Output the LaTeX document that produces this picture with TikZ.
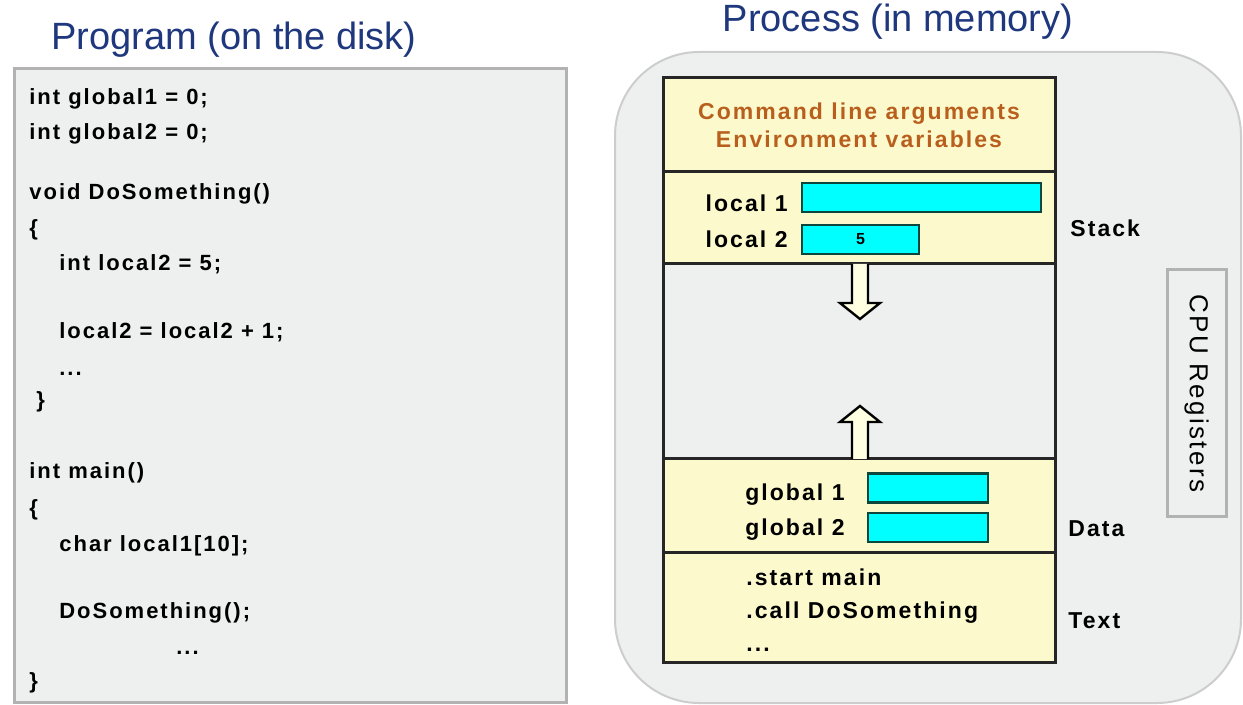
\documentclass[tikz,border=0pt]{standalone}
\usepackage{fontspec}
\setmainfont{Liberation Sans}
\newfontfamily\spacedfont[LetterSpace=9]{Liberation Sans}
\usetikzlibrary{positioning}
\definecolor{titleblue}{RGB}{30,55,125}
\definecolor{panelgrey}{RGB}{238,240,240}
\definecolor{diskedge}{RGB}{178,178,178}
\definecolor{procedge}{RGB}{205,205,205}
\definecolor{segyellow}{RGB}{252,250,205}
\definecolor{argorange}{RGB}{185,95,30}
\definecolor{barcyan}{RGB}{0,255,255}
\definecolor{bardark}{RGB}{12,70,60}
\definecolor{arrowfill}{RGB}{255,255,225}

\begin{document}
\begin{tikzpicture}[x=0.5pt,y=-0.5pt,node distance=0pt,
        title/.style={font=\fontsize{19}{22}\selectfont,text=titleblue,anchor=base,inner sep=0pt},
        code/.style={anchor=base west,inner sep=0pt,font=\spacedfont\bfseries\fontsize{11}{13}\selectfont},
        memlabel/.style={inner sep=0pt,font=\spacedfont\bfseries\fontsize{11.5}{14}\selectfont},
        panel/.style={rectangle,fill=panelgrey,inner sep=0pt,outer sep=0pt},
        seg/.style={rectangle,draw=black!85,line width=1.5pt,fill=segyellow,
          minimum width=196pt,inner sep=0pt,outer sep=0pt},
        bar/.style={rectangle,draw=bardark,fill=barcyan,line width=1.2pt,
          minimum height=14.5pt,inner sep=0pt,outer sep=0pt},
        growarrow/.style={draw=black,fill=arrowfill,line width=1.2pt,line join=miter}]
  \useasboundingbox (0,0) rectangle (1243,705);

  % program on the disk
  \node[title] (progtitle) at (234,50) {Program (on the disk)};
  \node[panel,draw=diskedge,line width=1.5pt,minimum width=276pt,minimum height=316.5pt] (disk) at (290,385.5) {};
  \node[code] (glob1) at (29,105) {int global1 = 0;};
  \node[code] (glob2) at (29,140) {int global2 = 0;};
  \node[code] (dosig) at (29,200) {void DoSomething()};
  \node[code] (dobeg) at (29,236) {\{};
  \node[code] (l2decl) at (59,271) {int local2 = 5;};
  \node[code] (l2inc) at (59,339) {local2 = local2 + 1;};
  \node[code] (dodots) at (59,376) {...};
  \node[code] (doend) at (36,408) {\}};
  \node[code] (mainsig) at (29,479) {int main()};
  \node[code] (mainbeg) at (29,516) {\{};
  \node[code] (l1decl) at (59,552) {char local1[10];};
  \node[code] (docall) at (59,618) {DoSomething();};
  \node[code] (maindots) at (176,654) {...};
  \node[code] (mainend) at (29,689) {\}};

  % process in memory
  \node[title] (proctitle) at (898,32) {Process (in memory)};
  \node[panel,draw=procedge,line width=1pt,rounded corners=42pt,
    minimum width=313pt,minimum height=325.5pt] (proc) at (928,377.5) {};
  \node[seg,minimum height=47pt] (args) at (859,125) {};
  \node[seg,minimum height=46pt,below=of args] (stack) {};
  \node[seg,minimum height=97.5pt,fill=panelgrey,below=of stack] (heap) {};
  \node[seg,minimum height=47pt,below=of heap] (data) {};
  \node[seg,minimum height=54.5pt,below=of data] (text) {};

  \node[memlabel,text=argorange,align=center] (argtext) at (args.center) {Command line arguments\\Environment variables};

  \node[bar,minimum width=119.5pt] (loc1bar) at (921.5,197.5) {};
  \node[bar,minimum width=58.5pt,font=\bfseries\fontsize{8}{8}\selectfont] (loc2bar) at (860.5,239.5) {5};
  \node[memlabel,anchor=base east] (loc1) at (788,212) {local 1};
  \node[memlabel,anchor=base east] (loc2) at (788,248) {local 2};

  \node[bar,minimum width=60pt] (glob1bar) at (928,488) {};
  \node[bar,minimum width=60pt] (glob2bar) at (928,527.5) {};
  \node[memlabel,anchor=base east] (glob1lbl) at (845,501) {global 1};
  \node[memlabel,anchor=base east] (glob2lbl) at (845,536) {global 2};

  \node[memlabel,anchor=base west] (startmain) at (746,586) {.start main};
  \node[memlabel,anchor=base west] (calldo) at (746,618) {.call DoSomething};
  \node[memlabel,anchor=base west] (textdots) at (746,651) {...};

  \node[memlabel,anchor=base west] (stacklbl) at (1070,237) {Stack};
  \node[memlabel,anchor=base west] (datalbl) at (1068,537) {Data};
  \node[memlabel,anchor=base west] (textlbl) at (1068,628) {Text};

  % stack grows down, heap grows up
  \draw[growarrow] (heap.north) ++(-7,0) -- ++(0,39) -- ++(-12,0) -- ++(20,16) -- ++(20,-16) -- ++(-12,0) -- ++(0,-39);
  \draw[growarrow] (heap.south) ++(-7,0) -- ++(0,-37) -- ++(-12,0) -- ++(20,-16) -- ++(20,16) -- ++(-12,0) -- ++(0,37);

  \node[panel,draw=diskedge,line width=1.5pt,rotate=-90,minimum width=123.5pt,minimum height=29.5pt,
    font=\spacedfont\fontsize{13}{15}\selectfont] (cpu) at (1196.5,393.5) {CPU Registers};
\end{tikzpicture}
\end{document}
